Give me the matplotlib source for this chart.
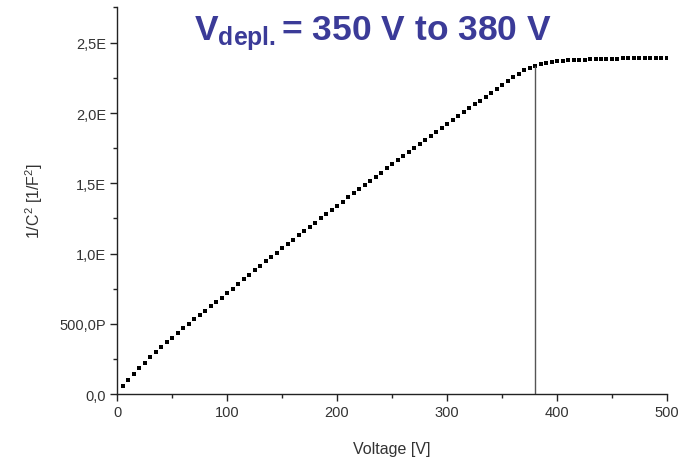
import numpy as np
import matplotlib
matplotlib.use("Agg")
import matplotlib.pyplot as plt
from matplotlib.ticker import FixedLocator, FixedFormatter

plt.rcParams['font.family'] = ['Liberation Sans', 'DejaVu Sans']
plt.rcParams['mathtext.fontset'] = 'custom'
plt.rcParams['mathtext.rm'] = 'Liberation Sans'
plt.rcParams['mathtext.bf'] = 'Liberation Sans:bold'

# measured points (voltage in V, 1/C^2 in units of 1E = 1e18 1/F^2)
voltage = [5, 10, 15, 20, 25, 30, 35, 40, 45, 50,
           55, 60, 65, 70, 75, 80, 85, 90, 95, 100,
           105, 110, 115, 120, 125, 130, 135, 140, 145, 150,
           155, 160, 165, 170, 175, 180, 185, 190, 195, 200,
           205, 210, 215, 220, 225, 230, 235, 240, 245, 250,
           255, 260, 265, 270, 275, 280, 285, 290, 295, 300,
           305, 310, 315, 320, 325, 330, 335, 340, 345, 350,
           355, 360, 365, 370, 375, 380, 385, 390, 395, 400,
           405, 410, 415, 420, 425, 430, 435, 440, 445, 450,
           455, 460, 465, 470, 475, 480, 485, 490, 495, 500]
inv_c2 = [0.055, 0.100, 0.142, 0.183, 0.222, 0.260, 0.297, 0.332, 0.367, 0.401,
          0.435, 0.467, 0.499, 0.531, 0.562, 0.593, 0.624, 0.655, 0.686, 0.717,
          0.750, 0.785, 0.820, 0.851, 0.882, 0.913, 0.944, 0.975, 1.006, 1.037,
          1.068, 1.099, 1.130, 1.160, 1.190, 1.220, 1.250, 1.280, 1.310, 1.340,
          1.370, 1.400, 1.430, 1.459, 1.489, 1.518, 1.548, 1.577, 1.607, 1.636,
          1.666, 1.695, 1.724, 1.753, 1.782, 1.810, 1.838, 1.866, 1.894, 1.922,
          1.950, 1.978, 2.006, 2.034, 2.062, 2.090, 2.118, 2.146, 2.174, 2.202,
          2.230, 2.257, 2.282, 2.304, 2.321, 2.336, 2.350, 2.360, 2.366, 2.370,
          2.373, 2.376, 2.378, 2.380, 2.382, 2.384, 2.385, 2.386, 2.387, 2.388,
          2.389, 2.390, 2.391, 2.392, 2.392, 2.393, 2.394, 2.394, 2.395, 2.395]

v_depl = 380
y_ticks = [0.0, 0.5, 1.0, 1.5, 2.0, 2.5]
y_tick_labels = ['0,0', '500,0P', '1,0E', '1,5E', '2,0E', '2,5E']
x_ticks = [0, 100, 200, 300, 400, 500]

fig = plt.figure(figsize=(6.82, 4.60), dpi=100)
ax = fig.add_axes([0.1716, 0.1413, 0.8064, 0.8413])

ax.plot(voltage, inv_c2, linestyle='none', marker='s', markersize=3.4,
        color='black', markeredgewidth=0)
ax.vlines(v_depl, 0, inv_c2[voltage.index(v_depl)], color='#555555', linewidth=1.0)

ax.set_xlim(0, 500)
ax.set_ylim(0, 2.756)

ax.xaxis.set_major_locator(FixedLocator(x_ticks))
ax.xaxis.set_minor_locator(FixedLocator([50, 150, 250, 350, 450]))
ax.yaxis.set_major_locator(FixedLocator(y_ticks))
ax.yaxis.set_major_formatter(FixedFormatter(y_tick_labels))
ax.yaxis.set_minor_locator(FixedLocator([0.25, 0.75, 1.25, 1.75, 2.25, 2.756]))

for side in ['top', 'right']:
    ax.spines[side].set_visible(False)
for side in ['left', 'bottom']:
    ax.spines[side].set_color('#222222')
    ax.spines[side].set_linewidth(1.0)

ax.tick_params(which='major', direction='out', length=5, width=1.0,
               color='#222222', labelsize=10.5, labelcolor='#333333', pad=3)
ax.tick_params(which='minor', direction='out', length=3, width=1.0, color='#222222')

ax.set_xlabel('Voltage [V]', fontsize=11.5, color='#333333', labelpad=16)
ax.set_ylabel(r'1/C$^2$ [1/F$^2$]', fontsize=11.5, color='#333333', labelpad=10)

fig.text(0.546, 0.913, r'$\mathbf{V_{depl.}}$= 350 V to 380 V', ha='center', va='baseline',
         fontsize=25.5, fontweight='bold', color='#3b3b98')

fig.savefig('out.png', dpi=100)
